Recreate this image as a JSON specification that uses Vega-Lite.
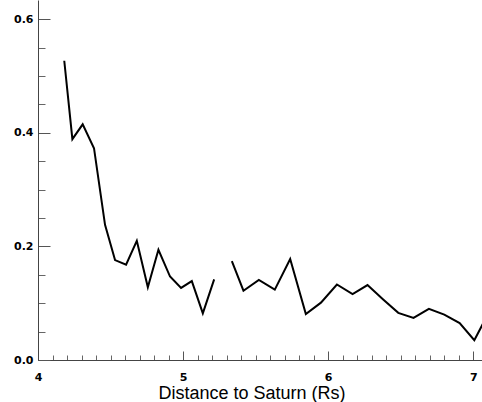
{
  "$schema": "https://vega.github.io/schema/vega-lite/v6.json",
  "width": 444,
  "height": 360,
  "autosize": "none",
  "padding": {"left": 38, "top": 0, "right": 0, "bottom": 42},
  "background": "white",
  "config": {"view": {"stroke": null}},
  "data": {"values": [
    {"d": 4.181, "v": 0.527, "seg": 1},
    {"d": 4.237, "v": 0.389, "seg": 1},
    {"d": 4.308, "v": 0.415, "seg": 1},
    {"d": 4.386, "v": 0.373, "seg": 1},
    {"d": 4.462, "v": 0.238, "seg": 1},
    {"d": 4.531, "v": 0.176, "seg": 1},
    {"d": 4.607, "v": 0.168, "seg": 1},
    {"d": 4.681, "v": 0.210, "seg": 1},
    {"d": 4.757, "v": 0.128, "seg": 1},
    {"d": 4.830, "v": 0.194, "seg": 1},
    {"d": 4.910, "v": 0.147, "seg": 1},
    {"d": 4.986, "v": 0.127, "seg": 1},
    {"d": 5.060, "v": 0.139, "seg": 1},
    {"d": 5.136, "v": 0.082, "seg": 1},
    {"d": 5.214, "v": 0.142, "seg": 1},
    {"d": 5.336, "v": 0.174, "seg": 2},
    {"d": 5.416, "v": 0.122, "seg": 2},
    {"d": 5.522, "v": 0.141, "seg": 2},
    {"d": 5.632, "v": 0.124, "seg": 2},
    {"d": 5.738, "v": 0.178, "seg": 2},
    {"d": 5.846, "v": 0.081, "seg": 2},
    {"d": 5.950, "v": 0.101, "seg": 2},
    {"d": 6.060, "v": 0.133, "seg": 2},
    {"d": 6.168, "v": 0.116, "seg": 2},
    {"d": 6.271, "v": 0.132, "seg": 2},
    {"d": 6.377, "v": 0.107, "seg": 2},
    {"d": 6.483, "v": 0.083, "seg": 2},
    {"d": 6.588, "v": 0.074, "seg": 2},
    {"d": 6.694, "v": 0.090, "seg": 2},
    {"d": 6.800, "v": 0.080, "seg": 2},
    {"d": 6.906, "v": 0.065, "seg": 2},
    {"d": 7.007, "v": 0.035, "seg": 2},
    {"d": 7.110, "v": 0.085, "seg": 2}
  ]},
  "resolve": {"axis": {"x": "independent", "y": "independent"}},
  "layer": [
    {
      "mark": {"type": "line", "strokeOpacity": 0, "clip": true},
      "encoding": {
        "x": {"field": "d", "type": "quantitative",
          "scale": {"domain": [4, 7.06], "nice": false, "zero": false},
          "axis": {"orient": "bottom", "values": [4.1,4.2,4.3,4.4,4.5,4.6,4.7,4.8,4.9,5.1,5.2,5.3,5.4,5.5,5.6,5.7,5.8,5.9,6.1,6.2,6.3,6.4,6.5,6.6,6.7,6.8,6.9],
            "labels": false, "domain": false, "grid": false, "title": null, "tickSize": -5, "tickColor": "#666", "tickWidth": 1}},
        "y": {"field": "v", "type": "quantitative",
          "scale": {"domain": [0, 0.634], "nice": false, "zero": false},
          "axis": {"orient": "left", "values": [0.05,0.1,0.15,0.25,0.3,0.35,0.45,0.5,0.55],
            "labels": false, "domain": false, "grid": false, "title": null, "tickSize": -7, "tickColor": "#666", "tickWidth": 1}},
        "detail": {"field": "seg", "type": "nominal"}
      }
    },
    {
      "mark": {"type": "line", "color": "black", "strokeWidth": 2, "clip": true},
      "encoding": {
        "x": {"field": "d", "type": "quantitative",
          "scale": {"domain": [4, 7.06], "nice": false, "zero": false},
          "axis": {"orient": "bottom", "values": [4, 5, 6, 7], "format": "d",
            "grid": false, "domainColor": "#444", "domainWidth": 1,
            "tickSize": -9, "tickColor": "#555", "tickWidth": 1,
            "labelFont": "DejaVu Sans", "labelFontSize": 11, "labelFontWeight": "bold", "labelColor": "black", "labelPadding": 20,
            "labelFlush": false, "labelOverlap": false, "labelBound": false,
            "title": "Distance to Saturn (Rs)", "titleFont": "Liberation Sans", "titleFontSize": 18,
            "titleFontWeight": "normal", "titleColor": "black", "titleX": 213.5, "titleY": 38.5, "titleBaseline": "alphabetic", "titleAnchor": "middle"}},
        "y": {"field": "v", "type": "quantitative",
          "scale": {"domain": [0, 0.634], "nice": false, "zero": false},
          "axis": {"orient": "left", "values": [0, 0.2, 0.4, 0.6], "format": ".1f",
            "grid": false, "domainColor": "#444", "domainWidth": 1,
            "tickSize": -12, "tickColor": "#555", "tickWidth": 1,
            "labelFont": "DejaVu Sans", "labelFontSize": 11, "labelFontWeight": "bold", "labelColor": "black", "labelPadding": 17,
            "labelFlush": false, "labelOverlap": false, "labelBound": false, "title": null}},
        "detail": {"field": "seg", "type": "nominal"}
      }
    }
  ]
}
